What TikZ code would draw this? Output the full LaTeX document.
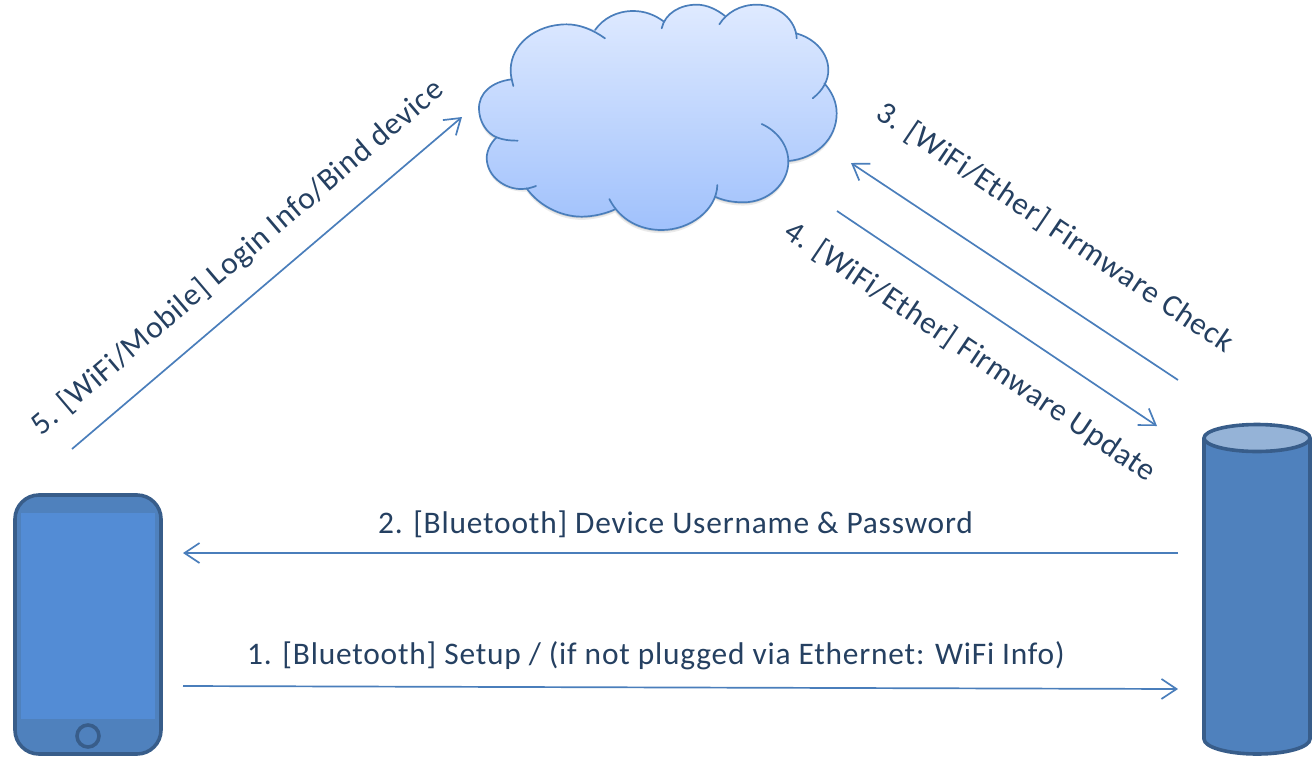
\documentclass[tikz,border=0pt]{standalone}
\usepackage{fontspec}
\setmainfont[LetterSpace=2.6]{Carlito}
\usetikzlibrary{arrows.meta}
\definecolor{linkblue}{HTML}{4A7EBB}
\definecolor{bodyblue}{HTML}{4F81BD}
\definecolor{edgeblue}{HTML}{385D8A}
\definecolor{screenblue}{HTML}{538CD5}
\definecolor{capblue}{HTML}{95B3D7}
\definecolor{labelnavy}{HTML}{254061}
\definecolor{cloudtop}{HTML}{DFEAFF}
\definecolor{cloudbottom}{HTML}{A0C1FC}
\tikzset{
  link/.style={draw=linkblue,line width=0.85pt,-{Straight Barb[length=7.5pt,width=10pt]}},
  steplabel/.style={text=labelnavy,font=\fontsize{15.7}{18}\selectfont,inner sep=0pt},
  bodyline/.style={draw=edgeblue,line width=1.8pt},
  cloudline/.style={draw=linkblue,line width=0.85pt,line cap=round}
}
% outer edge of the cloud
\newcommand{\cloudedge}{(155,238) .. controls (95,245) and (55,280) .. (57,328)
  .. controls (58,365) and (80,400) .. (110,412)
  .. controls (90,430) and (80,455) .. (80,475)
  .. controls (82,530) and (135,568) .. (200,565)
  .. controls (235,615) and (300,650) .. (365,650)
  .. controls (400,650) and (440,640) .. (465,628)
  .. controls (500,670) and (550,690) .. (605,690)
  .. controls (680,690) and (740,645) .. (765,590)
  .. controls (790,602) and (820,607) .. (850,607)
  .. controls (925,607) and (985,550) .. (985,483)
  .. controls (1070,475) and (1130,415) .. (1130,340)
  .. controls (1130,305) and (1115,275) .. (1093,250)
  .. controls (1100,235) and (1105,225) .. (1105,210)
  .. controls (1105,160) and (1065,115) .. (1008,100)
  .. controls (995,50) and (945,14) .. (890,14)
  .. controls (855,14) and (820,28) .. (795,48)
  .. controls (770,28) and (740,14) .. (710,14)
  .. controls (670,14) and (630,35) .. (610,65)
  .. controls (585,45) and (555,33) .. (520,33)
  .. controls (470,33) and (430,55) .. (405,90)
  .. controls (380,80) and (350,73) .. (320,73)
  .. controls (225,73) and (152,135) .. (152,210)
  .. controls (152,220) and (153,230) .. (155,238) -- cycle}
\begin{document}
\begin{tikzpicture}[x=0.5pt,y=-0.5pt]
  \useasboundingbox (0,0) rectangle (1313,756);

  % --- cloud, in units of a third of a pixel ---
  \begin{scope}[xshift=230pt,yshift=0pt,x=0.16667pt,y=-0.16667pt]
    % shadow
    \fill[black,opacity=0.08,yshift=-1.6pt] \cloudedge;
    \fill[black,opacity=0.10,yshift=-0.8pt] \cloudedge;
    % body
    \shade[top color=cloudtop,bottom color=cloudbottom] \cloudedge;
    % lobes
    \draw[cloudline] (160,258) -- (155,238) .. controls (95,245) and (55,280) .. (57,328)
      .. controls (58,365) and (80,400) .. (110,412) .. controls (130,420) and (150,422) .. (173,422);
    \draw[cloudline] (110,412) .. controls (90,430) and (80,455) .. (80,475)
      .. controls (82,530) and (135,568) .. (185,567) .. controls (200,567) and (215,563) .. (228,558);
    \draw[cloudline] (200,565) .. controls (235,615) and (300,650) .. (365,650)
      .. controls (400,650) and (440,640) .. (465,628);
    \draw[cloudline] (448,597) .. controls (480,660) and (540,690) .. (605,690)
      .. controls (690,690) and (770,630) .. (772,555);
    \draw[cloudline] (765,590) .. controls (790,602) and (820,607) .. (850,607)
      .. controls (925,607) and (985,550) .. (985,485) .. controls (985,435) and (950,392) .. (905,372);
    \draw[cloudline] (985,483) .. controls (1070,475) and (1130,415) .. (1130,340)
      .. controls (1130,305) and (1115,275) .. (1093,250);
    \draw[cloudline] (1058,295) .. controls (1090,270) and (1105,240) .. (1105,210)
      .. controls (1105,160) and (1065,115) .. (1008,100);
    \draw[cloudline] (1010,115) .. controls (1008,60) and (955,14) .. (890,14)
      .. controls (840,14) and (800,38) .. (778,73);
    \draw[cloudline] (795,48) .. controls (770,28) and (740,14) .. (710,14)
      .. controls (660,14) and (615,40) .. (605,85);
    \draw[cloudline] (612,65) .. controls (585,45) and (555,33) .. (520,33)
      .. controls (470,33) and (430,55) .. (405,90);
    \draw[cloudline] (435,115) .. controls (400,90) and (360,73) .. (320,73)
      .. controls (225,73) and (152,135) .. (152,210) .. controls (152,220) and (153,230) .. (155,238);
  \end{scope}

  % --- phone ---
  \node[bodyline,fill=bodyblue,rounded corners=12pt,minimum width=73pt,minimum height=129.5pt] (phone) at (88,624.5) {};
  \node[fill=screenblue,minimum width=67pt,minimum height=103pt] (screen) at (88,616) {};
  \node[circle,bodyline,minimum size=11pt,inner sep=0pt] (homekey) at (88,736) {};

  % --- server ---
  \fill[bodyblue] (1204,438) -- (1310,438) -- (1310,738) arc (0:180:53 and 15.5) -- cycle;
  \draw[bodyline] (1204,438) -- (1204,739) arc (180:0:53 and 15) -- (1310,438);
  \draw[bodyline,fill=capblue] (1257,438) ellipse (53 and 13.5);

  % --- link ends ---
  \coordinate (setupstart) at (183,686);
  \coordinate (setupend) at (1178,689);
  \coordinate (userstart) at (1178,553);
  \coordinate (userend) at (183,553);
  \coordinate (checkstart) at (1178,380);
  \coordinate (checkend) at (851,163);
  \coordinate (updatestart) at (837,211);
  \coordinate (updateend) at (1157,426);
  \coordinate (bindstart) at (72,449);
  \coordinate (bindend) at (462,117);

  \draw[link] (setupstart) -- (setupend);
  \draw[link] (userstart) -- (userend);
  \draw[link] (checkstart) -- (checkend);
  \draw[link] (updatestart) -- (updateend);
  \draw[link] (bindstart) -- (bindend);

  % --- labels ---
  \node[steplabel] (setuplabel) at (656,656) {1. [Bluetooth] Setup / (if not plugged via Ethernet: WiFi Info)};
  \node[steplabel] (userlabel) at (675.5,524) {2. [Bluetooth] Device Username \& Password};
  \node[steplabel,rotate=-34] (checklabel) at (1055,228) {3. [WiFi/Ether] Firmware Check};
  \node[steplabel,rotate=-34] (updatelabel) at (970,352) {4. [WiFi/Ether] Firmware Update};
  \node[steplabel,rotate=40.4] (bindlabel) at (238,258) {5. [WiFi/Mobile] Login Info/Bind device};
\end{tikzpicture}
\end{document}
